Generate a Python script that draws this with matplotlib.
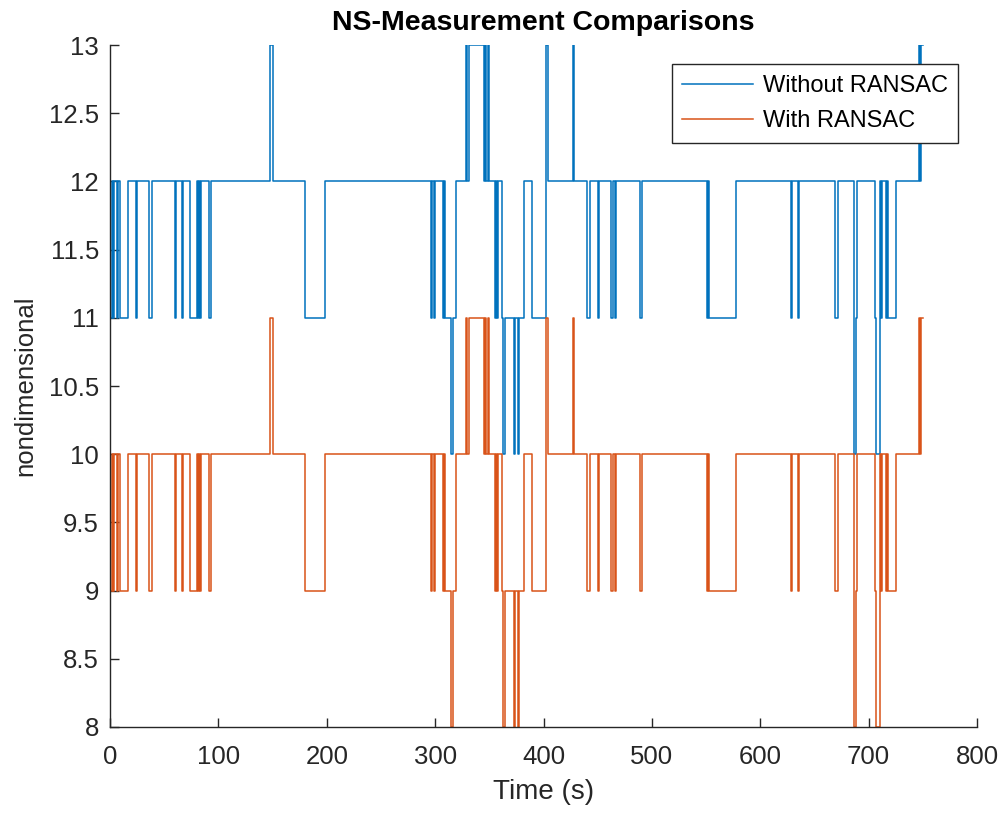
import matplotlib.pyplot as plt
import numpy as np

# change points (s) and the value held from each one on
t_change = [0, 2, 3, 4, 6, 7, 9, 17, 24, 25, 36, 39, 60, 61, 66, 67, 74, 80, 81, 82,
            83, 84, 91, 93, 148, 150, 180, 198, 296, 297, 299, 300, 307, 308, 309, 315,
            316, 319, 328, 329, 331, 345, 346, 347, 349, 350, 355, 356, 357, 358, 362,
            363, 364, 373, 374, 376, 377, 382, 389, 402, 404, 427, 428, 440, 443, 450,
            451, 462, 464, 466, 467, 489, 491, 551, 552, 553, 578, 628, 629, 635, 636,
            669, 672, 686, 688, 689, 706, 707, 710, 711, 712, 716, 717, 718, 725, 746,
            747, 748, 750]
without_ransac = [11, 12, 11, 12, 11, 12, 11, 12, 11, 12, 11, 12, 11, 12, 11, 12, 11, 12, 11, 12,
                  11, 12, 11, 12, 13, 12, 11, 12, 11, 12, 11, 12, 11, 12, 11, 10,
                  11, 12, 13, 12, 13, 12, 13, 12, 13, 12, 11, 12, 11, 12, 11,
                  10, 11, 10, 11, 10, 11, 12, 11, 13, 12, 13, 12, 11, 12, 11,
                  12, 11, 12, 11, 12, 11, 12, 11, 12, 11, 12, 11, 12, 11, 12,
                  11, 12, 10, 11, 12, 11, 10, 12, 11, 12, 11, 12, 11, 12, 13,
                  12, 13, 13]
with_ransac = [9, 10, 9, 10, 9, 10, 9, 10, 9, 10, 9, 10, 9, 10, 9, 10, 9, 10, 9, 10,
               9, 10, 9, 10, 11, 10, 9, 10, 9, 10, 9, 10, 9, 10, 9, 8,
               9, 10, 11, 10, 11, 10, 11, 10, 11, 10, 9, 10, 9, 10, 9,
               8, 9, 8, 9, 8, 9, 10, 9, 11, 10, 11, 10, 9, 10, 9,
               10, 9, 10, 9, 10, 9, 10, 9, 10, 9, 10, 9, 10, 9, 10,
               9, 10, 8, 9, 10, 9, 8, 10, 9, 10, 9, 10, 9, 10, 11,
               10, 11, 11]

plt.rcParams['font.family'] = ['Liberation Sans', 'DejaVu Sans']

fig = plt.figure(figsize=(10.05, 8.13), dpi=100)
ax = fig.add_axes([0.1095, 0.1058, 0.8627, 0.8388])

ax.plot(t_change, without_ransac, drawstyle='steps-post', color='#0072BD', lw=1.1,
        label='Without RANSAC')
ax.plot(t_change, with_ransac, drawstyle='steps-post', color='#D95319', lw=1.1,
        label='With RANSAC')

ax.set_xlim(0, 800)
ax.set_ylim(8, 13)
ax.set_xticks(np.arange(0, 801, 100))
ax.set_yticks(np.arange(8, 13.01, 0.5))
ax.set_yticklabels(['8', '8.5', '9', '9.5', '10', '10.5', '11', '11.5', '12', '12.5', '13'])

for s in ['top', 'right']:
    ax.spines[s].set_visible(False)
for s in ['left', 'bottom']:
    ax.spines[s].set_color('#262626')
    ax.spines[s].set_linewidth(1.0)
ax.tick_params(direction='in', length=6.5, width=1.0, colors='#262626',
               labelsize=18.5, pad=8)
ax.tick_params(axis='x', pad=13)

ax.set_title('NS-Measurement Comparisons', fontsize=20.5, fontweight='bold', pad=11)
ax.set_xlabel('Time (s)', fontsize=20, color='#262626', labelpad=7)
ax.set_ylabel('nondimensional', fontsize=18.5, color='#262626', labelpad=8)

leg = ax.legend(loc='upper right', bbox_to_anchor=(0.992, 0.989), fontsize=17,
                frameon=True, fancybox=False, edgecolor='#262626', framealpha=1,
                handlelength=3.0, borderpad=0.45, labelspacing=0.55, handletextpad=0.4)
leg.get_frame().set_linewidth(1.0)

fig.savefig('out.png', dpi=100)
